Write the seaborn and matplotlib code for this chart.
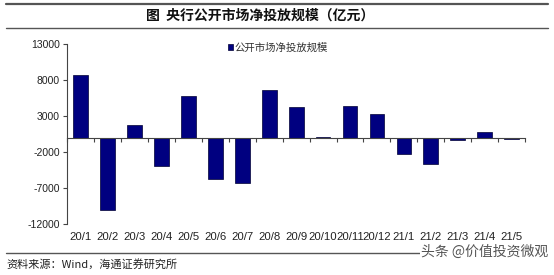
import matplotlib
matplotlib.use("Agg")
import matplotlib.pyplot as plt
import seaborn as sns
import pandas as pd
from matplotlib.lines import Line2D

months = ["20/1", "20/2", "20/3", "20/4", "20/5", "20/6", "20/7", "20/8", "20/9",
          "20/10", "20/11", "20/12", "21/1", "21/2", "21/3", "21/4", "21/5"]
net_injection = [8700, -10000, 1700, -3900, 5800, -5800, -6300, 6600, 4200,
                 150, 4400, 3300, -2200, -3600, -300, 800, -150]
yticks = [-12000, -7000, -2000, 3000, 8000, 13000]
series_name = "公开市场净投放规模"
title = "图  央行公开市场净投放规模（亿元）"
source = "资料来源：Wind，海通证券研究所"
watermark = "头条 @价值投资微观"

sns.set_style("white")
plt.rcParams["font.family"] = ["Liberation Sans", "Noto Sans CJK SC", "DejaVu Sans"]

df = pd.DataFrame({"month": months, "value": net_injection})

fig = plt.figure(figsize=(5.54, 2.75), dpi=100)
ax = fig.add_axes([0.121, 0.185, 0.827, 0.655])

sns.barplot(data=df, x="month", y="value", color="#000080", saturation=1,
            width=0.55, edgecolor="#000033", linewidth=0.5, label=series_name, ax=ax)

ax.set_xlim(-0.5, len(months) - 0.5)
ax.set_ylim(yticks[0], yticks[-1])
ax.set_yticks(yticks)
ax.set_yticklabels([str(v) for v in yticks], fontsize=7.5, color="#222222")
ax.set_xlabel("")
ax.set_ylabel("")

for s in ["top", "right"]:
    ax.spines[s].set_visible(False)
ax.spines["left"].set_color("#444444")
ax.spines["left"].set_linewidth(0.8)
ax.spines["bottom"].set_position(("data", 0))
ax.spines["bottom"].set_color("#444444")
ax.spines["bottom"].set_linewidth(0.8)

ax.tick_params(axis="y", direction="out", length=3, width=0.8, color="#444444", left=True, pad=2)
ax.set_xticks([i - 0.5 for i in range(len(months) + 1)])
ax.set_xticklabels([])
ax.tick_params(axis="x", direction="out", length=3, width=0.8, color="#444444", bottom=True)

sec = ax.secondary_xaxis(0)
sec.set_xticks(range(len(months)))
sec.set_xticklabels(months, fontsize=8.2, color="#222222")
sec.tick_params(length=0, pad=6)
sec.spines["bottom"].set_visible(False)

leg = ax.legend(loc="upper left", bbox_to_anchor=(0.33, 1.06), frameon=False,
                handlelength=0.5, handleheight=0.5, handletextpad=0.2,
                prop={"family": ["Noto Sans CJK SC"], "size": 7.5})
for t in leg.get_texts():
    t.set_color("#333333")

# header / footer decorations
fig.add_artist(Line2D([0.01, 0.99], [0.985, 0.985], color="#555555", lw=1.6, transform=fig.transFigure))
fig.add_artist(Line2D([0.01, 0.99], [0.898, 0.898], color="#555555", lw=1.0, transform=fig.transFigure))
fig.add_artist(Line2D([0.01, 0.99], [0.08, 0.08], color="#555555", lw=1.0, transform=fig.transFigure))
fig.text(0.47, 0.943, title, ha="center", va="center", fontsize=10, fontweight="bold",
         family=["Noto Sans CJK SC"], color="#111111")
fig.text(0.012, 0.04, source, ha="left", va="center", fontsize=8,
         family=["Noto Sans CJK SC", "Liberation Sans"], color="#222222")
fig.text(0.99, 0.085, watermark, ha="right", va="center", fontsize=10,
         family=["Noto Sans CJK SC"], color="#555555",
         bbox=dict(facecolor="white", edgecolor="none", pad=1))

fig.savefig("out.png", dpi=100)
